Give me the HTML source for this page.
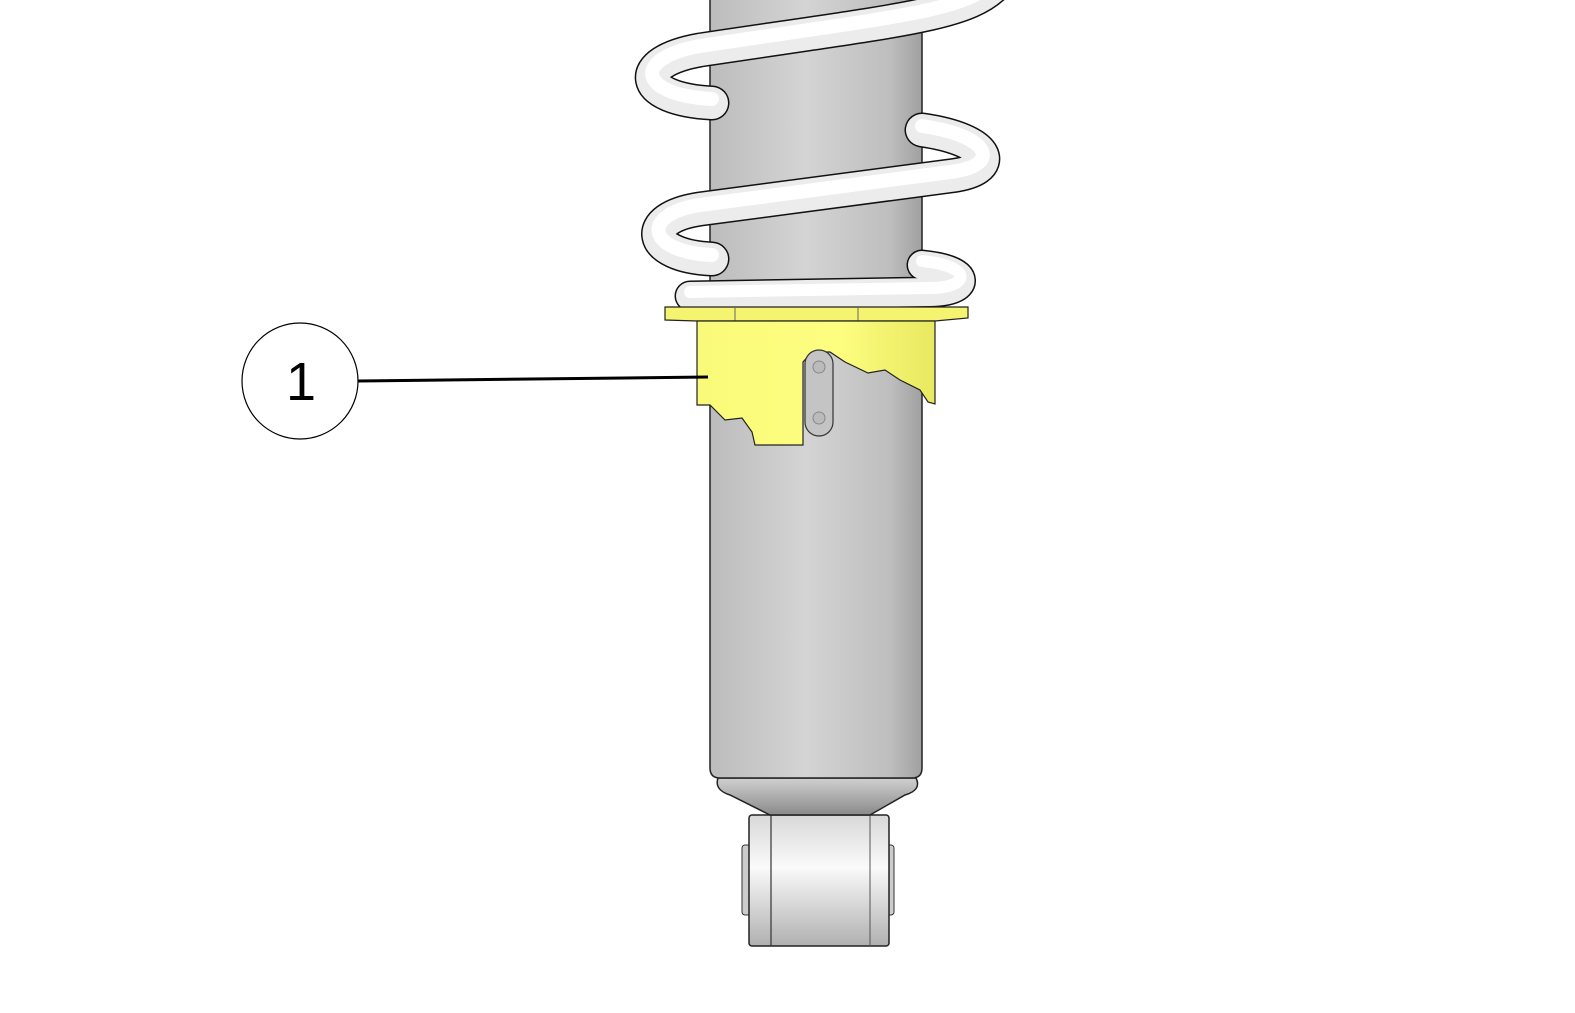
<!DOCTYPE html>
<html><head><style>html,body{margin:0;padding:0;background:#fff;width:1575px;height:1013px;overflow:hidden}</style></head>
<body>
<svg width="1575" height="1013" viewBox="0 0 1575 1013" xmlns="http://www.w3.org/2000/svg">
<defs>
<linearGradient id="body" x1="0" x2="1" y1="0" y2="0">
<stop offset="0" stop-color="#bcbcbc"/><stop offset="0.45" stop-color="#d4d4d4"/><stop offset="0.85" stop-color="#bebebe"/><stop offset="1" stop-color="#a0a0a0"/>
</linearGradient>
<linearGradient id="cone" x1="0" x2="0" y1="0" y2="1">
<stop offset="0" stop-color="#d0d0d0"/><stop offset="1" stop-color="#8a8a8a"/>
</linearGradient>
<linearGradient id="bush" x1="0" x2="0" y1="0" y2="1">
<stop offset="0" stop-color="#d8d8d8"/><stop offset="0.4" stop-color="#fafafa"/><stop offset="1" stop-color="#b0b0b0"/>
</linearGradient>
<linearGradient id="yel" x1="0" x2="1" y1="0" y2="0">
<stop offset="0" stop-color="#fafa7a"/><stop offset="0.6" stop-color="#fdfd80"/><stop offset="1" stop-color="#e8e860"/>
</linearGradient>
</defs>
<!-- bushing -->
<rect x="742" y="845" width="10" height="70" rx="3" fill="#ccc" stroke="#333" stroke-width="1"/>
<rect x="884" y="845" width="10" height="70" rx="3" fill="#ccc" stroke="#333" stroke-width="1"/>
<rect x="749" y="815" width="140" height="131" rx="3" fill="url(#bush)" stroke="#222" stroke-width="1.5"/>
<line x1="771" y1="815" x2="771" y2="946" stroke="#333" stroke-width="1.2"/>
<line x1="870" y1="815" x2="870" y2="946" stroke="#555" stroke-width="1"/>
<!-- cone -->
<path d="M718,778 L916,778 Q922,790 905,795 L870,815 L770,815 L730,795 Q714,790 718,778 Z" fill="url(#cone)" stroke="#222" stroke-width="1.5"/>
<!-- body -->
<path d="M710,-5 L922,-5 L922,768 Q922,778 912,778 L720,778 Q710,778 710,768 Z" fill="url(#body)" stroke="#222" stroke-width="1.5"/>
<!-- spring -->
<g fill="none" stroke-linecap="round">
<path d="M995,-15 C965,15 900,20 700,50 C632,62 637,99 712,103" stroke="#111" stroke-width="35"/>
<path d="M995,-15 C965,15 900,20 700,50 C632,62 637,99 712,103" stroke="#ececec" stroke-width="32"/>
<path d="M995,-15 C965,15 900,20 700,50 C632,62 637,99 712,103" stroke="#fff" stroke-width="14" transform="translate(0,-4)"/>
<path d="M922,130 C992,140 1002,170 950,176 L700,209 C640,218 646,256 712,259" stroke="#111" stroke-width="35"/>
<path d="M922,130 C992,140 1002,170 950,176 L700,209 C640,218 646,256 712,259" stroke="#ececec" stroke-width="32"/>
<path d="M922,130 C992,140 1002,170 950,176 L700,209 C640,218 646,256 712,259" stroke="#fff" stroke-width="14" transform="translate(0,-4)"/>
<path d="M922,265 C974,270 970,292 930,292 L690,296" stroke="#111" stroke-width="31"/>
<path d="M922,265 C974,270 970,292 930,292 L690,296" stroke="#ececec" stroke-width="28"/>
<path d="M922,265 C974,270 970,292 930,292 L690,296" stroke="#fff" stroke-width="12" transform="translate(0,-4)"/>
</g>
<!-- flange -->
<path d="M665,307 L968,307 L968,318 L935,321 L697,321 L665,320 Z" fill="#f4f470" stroke="#222" stroke-width="1.2"/>
<line x1="735" y1="308" x2="735" y2="321" stroke="#666"/>
<line x1="858" y1="308" x2="858" y2="321" stroke="#666"/>
<!-- collar -->
<path d="M697,321 L935,321 L935,404 L928,402 L920,390 L900,380 L885,370 L868,373 L845,362 L830,352 L812,352 L803,362 L803,445 L755,445 L752,432 L742,418 L725,420 L710,405 L697,405 Z" fill="url(#yel)" stroke="#222" stroke-width="1.2"/>
<rect x="805" y="350" width="28" height="86" rx="14" fill="#c4c4c4" stroke="#333" stroke-width="1.2"/>
<circle cx="819" cy="367" r="6" fill="#bbb" stroke="#888"/>
<circle cx="819" cy="418" r="6" fill="#bbb" stroke="#888"/>
<!-- callout -->
<line x1="358" y1="381" x2="708" y2="377" stroke="#000" stroke-width="3"/>
<circle cx="300" cy="381" r="58" fill="#fff" stroke="#000" stroke-width="1.2"/>
<text x="301" y="400" font-family="Liberation Sans, sans-serif" font-size="54" text-anchor="middle">1</text>
</svg>
</body></html>
